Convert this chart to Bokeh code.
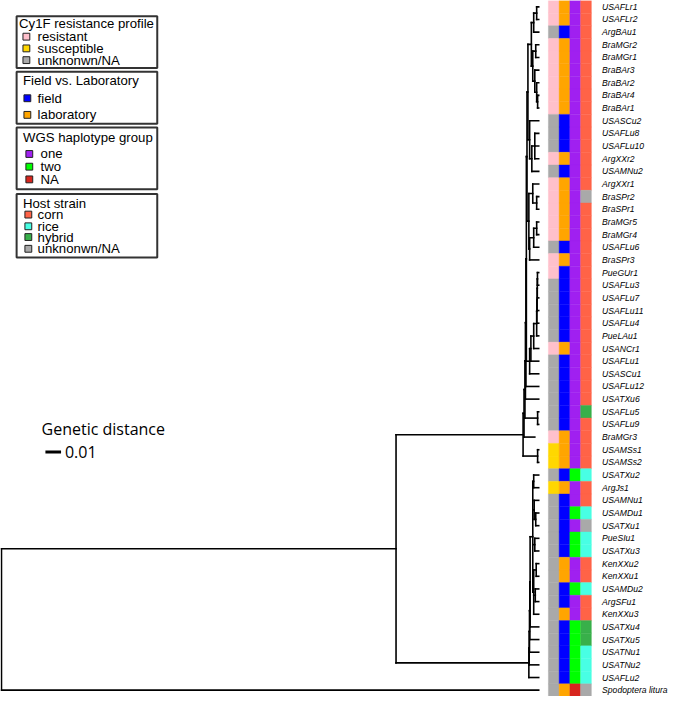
from bokeh.plotting import figure
from bokeh.models import ColumnDataSource, Range1d
from bokeh.core.properties import value
from bokeh.embed import file_html
from bokeh.resources import INLINE

# ---------------- data ----------------
tip_labels = ["USAFLr1", "USAFLr2", "ArgBAu1", "BraMGr2", "BraMGr1", "BraBAr3", "BraBAr2", "BraBAr4",
              "BraBAr1", "USASCu2", "USAFLu8", "USAFLu10", "ArgXXr2", "USAMNu2", "ArgXXr1", "BraSPr2",
              "BraSPr1", "BraMGr5", "BraMGr4", "USAFLu6", "BraSPr3", "PueGUr1", "USAFLu3", "USAFLu7",
              "USAFLu11", "USAFLu4", "PueLAu1", "USANCr1", "USAFLu1", "USASCu1", "USAFLu12", "USATXu6",
              "USAFLu5", "USAFLu9", "BraMGr3", "USAMSs1", "USAMSs2", "USATXu2", "ArgJs1", "USAMNu1",
              "USAMDu1", "USATXu1", "PueSIu1", "USATXu3", "KenXXu2", "KenXXu1", "USAMDu2", "ArgSFu1",
              "KenXXu3", "USATXu4", "USATXu5", "USATNu1", "USATNu2", "USAFLu2", "Spodoptera litura"]

resistance = ["resistant", "resistant", "unknonwn/NA", "resistant", "resistant", "resistant", "resistant",
              "resistant", "resistant", "unknonwn/NA", "unknonwn/NA", "unknonwn/NA", "resistant",
              "unknonwn/NA", "resistant", "resistant", "resistant", "resistant", "resistant", "unknonwn/NA",
              "resistant", "resistant", "unknonwn/NA", "unknonwn/NA", "unknonwn/NA", "unknonwn/NA",
              "unknonwn/NA", "resistant", "unknonwn/NA", "unknonwn/NA", "unknonwn/NA", "unknonwn/NA",
              "unknonwn/NA", "unknonwn/NA", "resistant", "susceptible", "susceptible", "unknonwn/NA",
              "susceptible", "unknonwn/NA", "unknonwn/NA", "unknonwn/NA", "unknonwn/NA", "unknonwn/NA",
              "unknonwn/NA", "unknonwn/NA", "unknonwn/NA", "unknonwn/NA", "unknonwn/NA", "unknonwn/NA",
              "unknonwn/NA", "unknonwn/NA", "unknonwn/NA", "unknonwn/NA", "unknonwn/NA"]

origin = ["laboratory", "laboratory", "field", "laboratory", "laboratory", "laboratory", "laboratory",
          "laboratory", "laboratory", "field", "field", "field", "laboratory", "field", "laboratory",
          "laboratory", "laboratory", "laboratory", "laboratory", "field", "laboratory", "field", "field",
          "field", "field", "field", "field", "laboratory", "field", "field", "field", "field", "field",
          "field", "laboratory", "laboratory", "laboratory", "field", "laboratory", "field", "field",
          "field", "field", "field", "laboratory", "laboratory", "field", "field", "laboratory", "field",
          "field", "field", "field", "field", "laboratory"]

haplotype = ["one"] * 37 + ["two", "one", "one", "two", "one", "two", "two", "one", "one", "two", "one",
                            "one", "two", "two", "two", "two", "two", "NA"]

host = ["corn"] * 15 + ["unknonwn/NA"] + ["corn"] * 16 + ["hybrid", "corn", "corn", "corn", "corn",
        "rice", "corn", "corn", "rice", "unknonwn/NA", "rice", "rice", "corn", "corn", "rice", "corn",
        "corn", "hybrid", "hybrid", "rice", "rice", "rice", "unknonwn/NA"]

legend_titles = ["Cy1F resistance profile", "Field vs. Laboratory", "WGS haplotype group", "Host strain"]
legend_items = [["resistant", "susceptible", "unknonwn/NA"],
                ["field", "laboratory"],
                ["one", "two", "NA"],
                ["corn", "rice", "hybrid", "unknonwn/NA"]]
legend_colors = [["#FFC0CB", "#FFD700", "#A9A9A9"],
                 ["#0000FF", "#FFA500"],
                 ["#A020F0", "#00FF00", "#D7261E"],
                 ["#FF6347", "#48FFE4", "#38B04A", "#A9A9A9"]]

# Tree in Newick form; the number after ':' is the root-to-node genetic distance.
nw_A2 = "((USAFLr1:0.3438,USAFLr2:0.3438):0.3425,ArgBAu1:0.3438):0.3406"
nw_B = "(BraMGr2:0.3438,BraMGr1:0.3438):0.3419"
nw_C = "(BraBAr3:0.3438,(BraBAr2:0.3438,(BraBAr4:0.3438,BraBAr1:0.3438):0.3431):0.3425):0.3413"
nw_G2 = "(USASCu2:0.3438,((USAFLu8:0.3438,USAFLu10:0.3438,ArgXXr2:0.3438):0.3413,USAMNu2:0.3438):0.3394):0.3380"
nw_E1 = "(ArgXXr1:0.3438,(BraSPr2:0.3438,BraSPr1:0.3438):0.3425):0.3400"
nw_E3 = "(((BraMGr5:0.3438,BraMGr4:0.3438):0.3425,USAFLu6:0.3438):0.3406,BraSPr3:0.3438):0.3380"
nw_F = ("(((((PueGUr1:0.3438,USAFLu3:0.3438):0.3430,USAFLu7:0.3438):0.3429,USAFLu11:0.3438):0.3428,"
        "USAFLu4:0.3438):0.3426,PueLAu1:0.3438):0.3425")
nw_B1 = ("((USATXu2:0.3438,ArgJs1:0.3438):0.3406,(USAMNu1:0.3438,(USAMDu1:0.3438,USATXu1:0.3438):0.3419):0.3409,"
         "(PueSIu1:0.3438,USATXu3:0.3438):0.3413,((KenXXu2:0.3438,KenXXu1:0.3438):0.3422,"
         "(USAMDu2:0.3438,ArgSFu1:0.3438):0.3416,KenXXu3:0.3438):0.3406):0.3400")

nw_G1 = "(" + nw_A2 + ",(" + nw_B + "," + nw_C + "):0.3400):0.3391"
nw_L1 = "(" + nw_G1 + "," + nw_G2 + "):0.3369"
nw_E = "(" + nw_E1 + "," + nw_E3 + "):0.3375"
nw_L2 = "(" + nw_L1 + "," + nw_E + "):0.3363"
nw_C22 = "(((" + nw_F + ",USANCr1:0.3438):0.3406,USAFLu1:0.3438):0.3388,USASCu1:0.3438):0.3380"
nw_L3 = "(" + nw_L2 + "," + nw_C22 + "):0.3359"
nw_L4 = "(" + nw_L3 + ",USAFLu12:0.3438):0.3356"
nw_L5 = "(" + nw_L4 + ",USATXu6:0.3438):0.3353"
nw_L6 = "(" + nw_L5 + ",(USAFLu5:0.3438,USAFLu9:0.3438):0.3431):0.3350"
nw_L7 = "(" + nw_L6 + ",BraMGr3:0.3413):0.3344"
nw_cladeA = "(" + nw_L7 + ",(USAMSs1:0.3438,USAMSs2:0.3438):0.3431):0.3338"
nw_cladeB = ("(((((" + nw_B1 + ",USATXu4:0.3438):0.3383,USATXu5:0.3438):0.3381,USATNu1:0.3438):0.3379,"
             "USATNu2:0.3438):0.3377,USAFLu2:0.3438):0.3375")
newick = "((" + nw_cladeA + "," + nw_cladeB + "):0.2525,Spodoptera litura:0.3438):0;"

scale_bar_length = 0.01
scale_bar_label = "0.01"

# ---------------- layout (reference pixel frame) ----------------
REF_W, REF_H = 685, 712
PX_PER_UNIT = 1600.0
N = len(tip_labels)


def X(px):
    return (px - 1) / PX_PER_UNIT


def Y(py):
    return py * N / REF_H - 0.5


# ---------------- parse tree ----------------
def parse_newick(s):
    pos = 0

    def node():
        nonlocal pos
        children = []
        if s[pos] == "(":
            pos += 1
            while True:
                children.append(node())
                if s[pos] == ",":
                    pos += 1
                    continue
                if s[pos] == ")":
                    pos += 1
                    break
        start = pos
        while s[pos] not in ":,);":
            pos += 1
        name = s[start:pos]
        depth = 0.0
        if s[pos] == ":":
            pos += 1
            start = pos
            while s[pos] not in ",);":
                pos += 1
            depth = float(s[start:pos])
        return {"name": name, "depth": depth, "children": children}

    return node()


root = parse_newick(newick)
order = []


def assign_y(nd):
    if not nd["children"]:
        nd["y"] = tip_labels.index(nd["name"])
        order.append(nd["name"])
    else:
        for c in nd["children"]:
            assign_y(c)
        ys = [c["y"] for c in nd["children"]]
        nd["y"] = (min(ys) + max(ys)) / 2.0


assign_y(root)
assert order == tip_labels, order

x0s, y0s, x1s, y1s = [], [], [], []


def collect(nd):
    if nd["children"]:
        ys = [c["y"] for c in nd["children"]]
        x0s.append(nd["depth"]); y0s.append(min(ys)); x1s.append(nd["depth"]); y1s.append(max(ys))
        for c in nd["children"]:
            x0s.append(nd["depth"]); y0s.append(c["y"]); x1s.append(c["depth"]); y1s.append(c["y"])
            collect(c)


collect(root)

# ---------------- figure ----------------
p = figure(width=669, height=696, output_backend="svg", toolbar_location=None,
           x_range=Range1d(X(0), X(REF_W)), y_range=Range1d(Y(REF_H), Y(0)),
           x_axis_location=None, y_axis_location=None, min_border=0)
p.outline_line_color = None
p.grid.visible = False
p.background_fill_color = "white"

p.segment(x0=x0s, y0=y0s, x1=x1s, y1=y1s, line_color="black", line_width=1.6, line_cap="square")

# heatmap
color_maps = []
for items, cols in zip(legend_items, legend_colors):
    color_maps.append(dict(zip(items, cols)))
columns = [resistance, origin, haplotype, host]
col_left_px = [561, 572, 583, 594]
col_w_px = 11
for ci, (vals, cmap) in enumerate(zip(columns, color_maps)):
    src = ColumnDataSource(dict(
        left=[X(col_left_px[ci])] * N,
        right=[X(col_left_px[ci] + col_w_px)] * N,
        top=[i - 0.5 for i in range(N)],
        bottom=[i + 0.5 for i in range(N)],
        color=[cmap[v] for v in vals]))
    p.quad(left="left", right="right", top="top", bottom="bottom", source=src,
           fill_color="color", line_color="color", line_width=0.4)

# tip labels
p.text(x=[X(616)] * N, y=list(range(N)), text=tip_labels, text_font=value("Liberation Sans"),
       text_font_style="italic", text_font_size="8.6px", text_baseline="middle", text_align="left",
       text_color="black")

# legend boxes
box_top = [16, 73, 130, 198]
box_bottom = [69, 126, 193, 263]
title_y = [24, 82, 140, 208]
title_x = [19, 23, 23, 23]
item_y = [[37, 49, 61], [100, 117], [157, 170, 183], [219, 231, 242, 254]]
key_x = [23, 24, 26, 25]
text_x = [38, 38, 41, 38]
KEY = 7

p.quad(left=[X(16.5)] * 4, right=[X(160.5)] * 4, top=[Y(t) for t in box_top],
       bottom=[Y(b) for b in box_bottom], fill_color=None, line_color="#333333", line_width=2)
p.text(x=[X(v) for v in title_x], y=[Y(v) for v in title_y], text=legend_titles,
       text_font=value("Liberation Sans"), text_font_size="13.2px", text_baseline="middle",
       text_color="black")
for gi in range(4):
    ys = item_y[gi]
    n = len(ys)
    p.quad(left=[X(key_x[gi])] * n, right=[X(key_x[gi] + KEY)] * n,
           top=[Y(v - KEY / 2) for v in ys], bottom=[Y(v + KEY / 2) for v in ys],
           fill_color=legend_colors[gi], line_color="#222222", line_width=1)
    p.text(x=[X(text_x[gi])] * n, y=[Y(v) for v in ys], text=legend_items[gi],
           text_font=value("Liberation Sans"), text_font_size="13.2px", text_baseline="middle",
           text_color="black")

# scale bar
p.text(x=[X(42)], y=[Y(438)], text=["Genetic distance"], text_font=value("Open Sans"),
       text_font_size="16px", text_baseline="middle", text_color="black")
sb_x0 = X(46)
p.segment(x0=[sb_x0], y0=[Y(462)], x1=[sb_x0 + scale_bar_length], y1=[Y(462)],
          line_color="black", line_width=3)
p.text(x=[sb_x0 + scale_bar_length + X(4) - X(0)], y=[Y(462)], text=[scale_bar_label],
       text_font=value("Open Sans"), text_font_size="16px", text_baseline="middle",
       text_color="black")

open("out.html", "w").write(file_html(p, INLINE))
